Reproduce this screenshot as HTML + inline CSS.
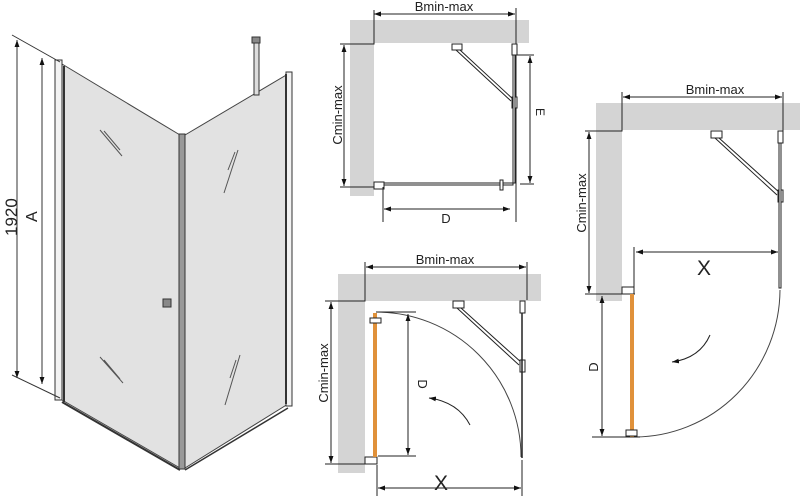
<!DOCTYPE html>
<html><head><style>html,body{margin:0;padding:0;background:#fff}svg{display:block}text{font-family:"Liberation Sans",sans-serif;fill:#222}</style></head><body>
<svg width="800" height="501" viewBox="0 0 800 501" xmlns="http://www.w3.org/2000/svg">
<defs>
<marker id="a" viewBox="0 0 10 10" refX="10" refY="5" markerWidth="7" markerHeight="7" orient="auto-start-reverse"><path d="M0,1.5 L10,5 L0,8.5z" fill="#111"/></marker>
</defs>
<g stroke="#333" stroke-width="1" fill="none">
<polygon points="62,64 180,135 180,468 62,400" fill="#e2e2e2" stroke="#444"/>
<polygon points="185,135 288,74 288,404 185,468" fill="#e2e2e2" stroke="#444"/>
<rect x="55" y="60" width="7" height="340" fill="#f2f2f2"/>
<line x1="64" y1="66" x2="64" y2="402" stroke-width="2"/>
<rect x="179" y="134" width="6" height="335" fill="#999" stroke="#333"/>
<rect x="286" y="72" width="6" height="334" fill="#f2f2f2"/>
<line x1="286" y1="74" x2="286" y2="404" stroke-width="2"/>
<line x1="62" y1="402" x2="180" y2="470" stroke-width="2"/>
<line x1="185" y1="470" x2="288" y2="408" stroke-width="1.5"/>
<rect x="254" y="37" width="5" height="58" fill="#ddd"/>
<rect x="252" y="37" width="8" height="6" fill="#888"/>
<rect x="163" y="299" width="8" height="8" fill="#888"/>
<path d="M100,130 L122,156 M104,131 L120,150 M100,357 L123,383 M104,360 L120,379 M238,150 L224,193 M235,152 L228,170 M240,355 L225,405 M236,360 L230,378" stroke="#555"/>
<line x1="12" y1="35" x2="60" y2="62"/>
<line x1="12" y1="375" x2="60" y2="398"/>
<line x1="17" y1="40" x2="17" y2="378" marker-start="url(#a)" marker-end="url(#a)"/>
<line x1="42" y1="58" x2="42" y2="384" marker-start="url(#a)" marker-end="url(#a)"/>
</g>
<text font-size="17" transform="translate(17,236) rotate(-90)">1920</text>
<text font-size="16" transform="translate(37,222) rotate(-90)">A</text>

<g stroke="#222" stroke-width="1" fill="none">
<rect x="350" y="20" width="179" height="23" fill="#d4d4d4" stroke="none"/>
<rect x="350" y="20" width="24" height="176" fill="#d4d4d4" stroke="none"/>
<polyline points="340,44 374,44 374,10"/>
<line x1="516" y1="8" x2="516" y2="222"/>
<line x1="374" y1="14" x2="515" y2="14" marker-start="url(#a)" marker-end="url(#a)"/>
<line x1="344" y1="45" x2="344" y2="186" marker-start="url(#a)" marker-end="url(#a)"/>
<line x1="340" y1="187" x2="376" y2="187"/>
<rect x="452" y="44" width="10" height="6" fill="#fff"/>
<path d="M460,50 L514,100 M456,50 L511,101"/>
<rect x="512" y="44" width="5" height="11" fill="#fff"/>
<rect x="512" y="97" width="5" height="11" fill="#fff"/>
<rect x="513" y="55" width="2" height="128" fill="#fff"/>
<rect x="383" y="183" width="130" height="2" fill="#fff"/>
<rect x="374" y="182" width="10" height="7" fill="#fff"/>
<rect x="500" y="180" width="3" height="10" fill="#fff"/>
<line x1="520" y1="184" x2="534" y2="184"/><line x1="517" y1="55" x2="534" y2="55"/>
<line x1="530" y1="56" x2="530" y2="183" marker-start="url(#a)" marker-end="url(#a)"/>
<line x1="383" y1="187" x2="383" y2="222"/>
<line x1="384" y1="209" x2="510" y2="209" marker-start="url(#a)" marker-end="url(#a)"/>
</g>
<text x="444" y="11" font-size="13" text-anchor="middle">Bmin-max</text>
<text font-size="13" text-anchor="middle" transform="translate(342,115) rotate(-90)">Cmin-max</text>
<text font-size="12" text-anchor="middle" transform="translate(536,112) rotate(90)">E</text>
<text x="446" y="223" font-size="13" text-anchor="middle">D</text>

<g stroke="#222" stroke-width="1" fill="none">
<rect x="338" y="274" width="203" height="27" fill="#d4d4d4" stroke="none"/>
<rect x="338" y="274" width="27" height="199" fill="#d4d4d4" stroke="none"/>
<polyline points="325,301 365,301 365,262"/>
<line x1="527" y1="262" x2="527" y2="300"/>
<line x1="366" y1="267" x2="526" y2="267" marker-start="url(#a)" marker-end="url(#a)"/>
<line x1="331" y1="302" x2="331" y2="463" marker-start="url(#a)" marker-end="url(#a)"/>
<line x1="325" y1="464" x2="376" y2="464"/>
<path d="M376,312 A145,145 0 0 1 521,457" stroke="#444"/>
<line x1="376" y1="312" x2="416" y2="312"/>
<line x1="378" y1="456" x2="416" y2="456"/>
<line x1="408" y1="314" x2="408" y2="455" marker-start="url(#a)" marker-end="url(#a)"/>
<rect x="453" y="301" width="11" height="7" fill="#fff"/>
<path d="M461,308 L522,363 M457,308 L519,365"/>
<rect x="520" y="301" width="5" height="12" fill="#fff"/>
<rect x="520" y="360" width="5" height="12" fill="#fff"/>
<line x1="522" y1="313" x2="522" y2="458" stroke-width="1.5"/>
<rect x="365" y="457" width="12" height="7" fill="#fff"/>
<line x1="377" y1="465" x2="377" y2="496"/><line x1="522" y1="460" x2="522" y2="496"/>
<line x1="378" y1="488" x2="521" y2="488" marker-start="url(#a)" marker-end="url(#a)"/>
<path d="M470,425 Q458,402 429,398" marker-end="url(#a)"/>
</g>
<rect x="373" y="313" width="4" height="144" fill="#e0913a"/>
<rect x="370" y="318" width="11" height="5" fill="#fff" stroke="#222"/>
<text x="445" y="264" font-size="13" text-anchor="middle">Bmin-max</text>
<text font-size="13" text-anchor="middle" transform="translate(328,373) rotate(-90)">Cmin-max</text>
<text font-size="13" text-anchor="middle" transform="translate(418,384) rotate(90)">D</text>
<text x="441" y="490" font-size="21" text-anchor="middle">X</text>

<g stroke="#222" stroke-width="1" fill="none">
<rect x="596" y="103" width="204" height="27" fill="#d4d4d4" stroke="none"/>
<rect x="596" y="103" width="26" height="198" fill="#d4d4d4" stroke="none"/>
<polyline points="585,131 622,131 622,92"/>
<line x1="783" y1="92" x2="783" y2="132"/>
<line x1="623" y1="97" x2="782" y2="97" marker-start="url(#a)" marker-end="url(#a)"/>
<line x1="589" y1="132" x2="589" y2="293" marker-start="url(#a)" marker-end="url(#a)"/>
<line x1="585" y1="294" x2="635" y2="294"/>
<rect x="711" y="131" width="11" height="7" fill="#fff"/>
<path d="M719,138 L780,193 M715,138 L777,195"/>
<rect x="778" y="131" width="5" height="12" fill="#fff"/>
<rect x="778" y="190" width="5" height="12" fill="#fff"/>
<rect x="779" y="143" width="2" height="145" fill="#fff"/>
<line x1="634" y1="247" x2="634" y2="287"/>
<line x1="636" y1="252" x2="778" y2="252" marker-start="url(#a)" marker-end="url(#a)"/>
<rect x="622" y="287" width="12" height="7" fill="#fff"/>
<path d="M780,290 A146,148 0 0 1 634,437" stroke="#444"/>
<line x1="602" y1="296" x2="602" y2="436" marker-start="url(#a)" marker-end="url(#a)"/>
<line x1="592" y1="437" x2="640" y2="437"/>
<path d="M710,335 Q700,358 672,362" marker-end="url(#a)"/>
</g>
<rect x="630" y="294" width="4" height="143" fill="#e0913a"/>
<rect x="626" y="430" width="11" height="6" fill="#fff" stroke="#222"/>
<text x="715" y="94" font-size="13" text-anchor="middle">Bmin-max</text>
<text font-size="13" text-anchor="middle" transform="translate(586,203) rotate(-90)">Cmin-max</text>
<text font-size="13" text-anchor="middle" transform="translate(598,367) rotate(-90)">D</text>
<text x="704" y="275" font-size="21" text-anchor="middle">X</text>
</svg>
</body></html>
